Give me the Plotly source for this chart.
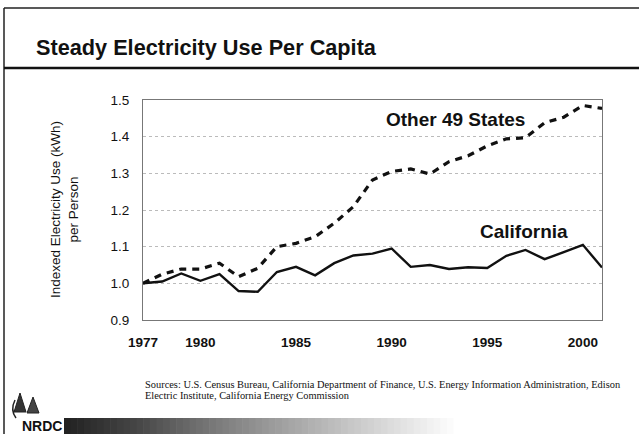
import plotly.graph_objects as go

years = list(range(1977, 2002))
california = [1.000, 1.005, 1.027, 1.007, 1.025, 0.979, 0.977, 1.031, 1.045, 1.022,
              1.055, 1.076, 1.081, 1.095, 1.045, 1.050, 1.039, 1.044, 1.042, 1.075,
              1.091, 1.066, 1.085, 1.105, 1.043]
other49 = [1.000, 1.025, 1.039, 1.039, 1.055, 1.018, 1.041, 1.100, 1.109, 1.127,
           1.164, 1.209, 1.282, 1.305, 1.312, 1.298, 1.332, 1.348, 1.375, 1.394,
           1.397, 1.438, 1.453, 1.485, 1.477]
x_ticks = [1977, 1980, 1985, 1990, 1995, 2000]
y_ticks = [0.9, 1.0, 1.1, 1.2, 1.3, 1.4, 1.5]
source_lines = [
    "Sources: U.S. Census Bureau, California Department of Finance, U.S. Energy Information Administration, Edison",
    "Electric Institute, California Energy Commission",
]

W, H = 639, 434
fig = go.Figure()
fig.add_trace(go.Scatter(x=years, y=other49, mode="lines", name="Other 49 States",
                         line=dict(color="#111111", width=3.2, dash="7px,6px")))
fig.add_trace(go.Scatter(x=years, y=california, mode="lines", name="California",
                         line=dict(color="#111111", width=2.4)))

def px_x(p):
    return p / W

def px_y(p):
    return 1 - p / H

shapes = []
# page border lines
shapes.append(dict(type="line", xref="paper", yref="paper", x0=px_x(4), x1=1, y0=px_y(8), y1=px_y(8),
                   line=dict(color="#222", width=1.5)))
shapes.append(dict(type="line", xref="paper", yref="paper", x0=px_x(4), x1=px_x(4), y0=px_y(8), y1=0,
                   line=dict(color="#222", width=1.5)))
shapes.append(dict(type="line", xref="paper", yref="paper", x0=px_x(4), x1=1, y0=px_y(68), y1=px_y(68),
                   line=dict(color="#111", width=2.5)))
# gradient bar
n = 60
x0b, x1b = 64, 460
for i in range(n):
    t = i / (n - 1)
    if t < 0.2:
        g = 35 + 40 * t / 0.2
    else:
        g = 75 + 180 * ((t - 0.2) / 0.8) ** 0.9
    g = int(min(g, 255))
    xa = x0b + (x1b - x0b) * i / n
    xb = x0b + (x1b - x0b) * (i + 1) / n
    shapes.append(dict(type="rect", xref="paper", yref="paper", x0=px_x(xa), x1=px_x(xb) + 0.001,
                       y0=0, y1=px_y(418), line=dict(width=0),
                       fillcolor=f"rgb({g},{g},{g})", layer="below"))

# small tree logo (two tree silhouettes)
def tri_path(cx, top, bot, half):
    return (f"M {px_x(cx)} {px_y(top)} L {px_x(cx - half)} {px_y(bot)} "
            f"L {px_x(cx + half)} {px_y(bot)} Z")

shapes.append(dict(type="path", xref="paper", yref="paper", path=tri_path(20, 393, 412, 6),
                   fillcolor="#333", line=dict(color="#222", width=1)))
shapes.append(dict(type="path", xref="paper", yref="paper", path=tri_path(33, 397, 413, 6),
                   fillcolor="#444", line=dict(color="#222", width=1)))
shapes.append(dict(type="path", xref="paper", yref="paper",
                   path=f"M {px_x(15)} {px_y(400)} Q {px_x(10)} {px_y(410)} {px_x(16)} {px_y(418)}",
                   line=dict(color="#222", width=1.5)))

annotations = [
    dict(text="<b>Steady Electricity Use Per Capita</b>", x=px_x(34), y=px_y(47), xref="paper", yref="paper",
         xanchor="left", yanchor="middle", showarrow=False,
         font=dict(family="Liberation Sans, Arial", size=21.7, color="#111")),
    dict(text="Indexed Electricity Use (kWh)<br>per Person", x=px_x(64), y=px_y(210),
         xref="paper", yref="paper", textangle=-90, showarrow=False, xanchor="center", yanchor="middle",
         font=dict(family="Liberation Sans, Arial", size=13.5, color="#111")),
    dict(text="<b>Other 49 States</b>", x=px_x(455.5), y=px_y(119.5), xref="paper", yref="paper",
         xanchor="center", yanchor="middle",
         showarrow=False, font=dict(family="Liberation Sans, Arial", size=19, color="#111")),
    dict(text="<b>California</b>", x=px_x(524), y=px_y(231), xref="paper", yref="paper",
         xanchor="center", yanchor="middle",
         showarrow=False, font=dict(family="Liberation Sans, Arial", size=19, color="#111")),
    dict(text="<b>NRDC</b>", x=px_x(20), y=px_y(426), xref="paper", yref="paper", xanchor="left",
         yanchor="middle", showarrow=False, font=dict(family="Liberation Sans, Arial", size=14, color="#111")),
]
for k, line in enumerate(source_lines):
    annotations.append(dict(text=line, x=px_x(143), y=px_y(384 + 11.5 * k), xref="paper", yref="paper",
                            xanchor="left", yanchor="middle", align="left", showarrow=False,
                            font=dict(family="Liberation Serif, Times New Roman", size=10.4, color="#111")))

fig.update_layout(
    width=W, height=H,
    margin=dict(l=0, r=0, t=0, b=0, pad=0, autoexpand=False),
    paper_bgcolor="white", plot_bgcolor="white",
    showlegend=False,
    shapes=shapes,
    annotations=annotations,
    xaxis=dict(domain=[px_x(143), px_x(602)], range=[1977, 2001], tickvals=x_ticks,
               ticktext=[f"<b>{t}</b>" for t in x_ticks], showgrid=False, zeroline=False,
               showline=True, linecolor="#777", linewidth=1, mirror=True, ticks="", automargin=False,
               ticklabelstandoff=10,
               tickfont=dict(family="Liberation Sans, Arial", size=13.5, color="#111")),
    yaxis=dict(domain=[px_y(320), px_y(100)], range=[0.9, 1.5], tickvals=y_ticks,
               ticktext=[f"{v:.1f}" for v in y_ticks], showgrid=True, gridcolor="#bbbbbb",
               griddash="dot", gridwidth=1, zeroline=False, automargin=False,
               showline=True, linecolor="#777", linewidth=1, mirror=True, ticks="",
               ticklen=0, ticklabelstandoff=10,
               tickfont=dict(family="Liberation Sans, Arial", size=13.5, color="#111")),
)

fig.write_html("out.html")
